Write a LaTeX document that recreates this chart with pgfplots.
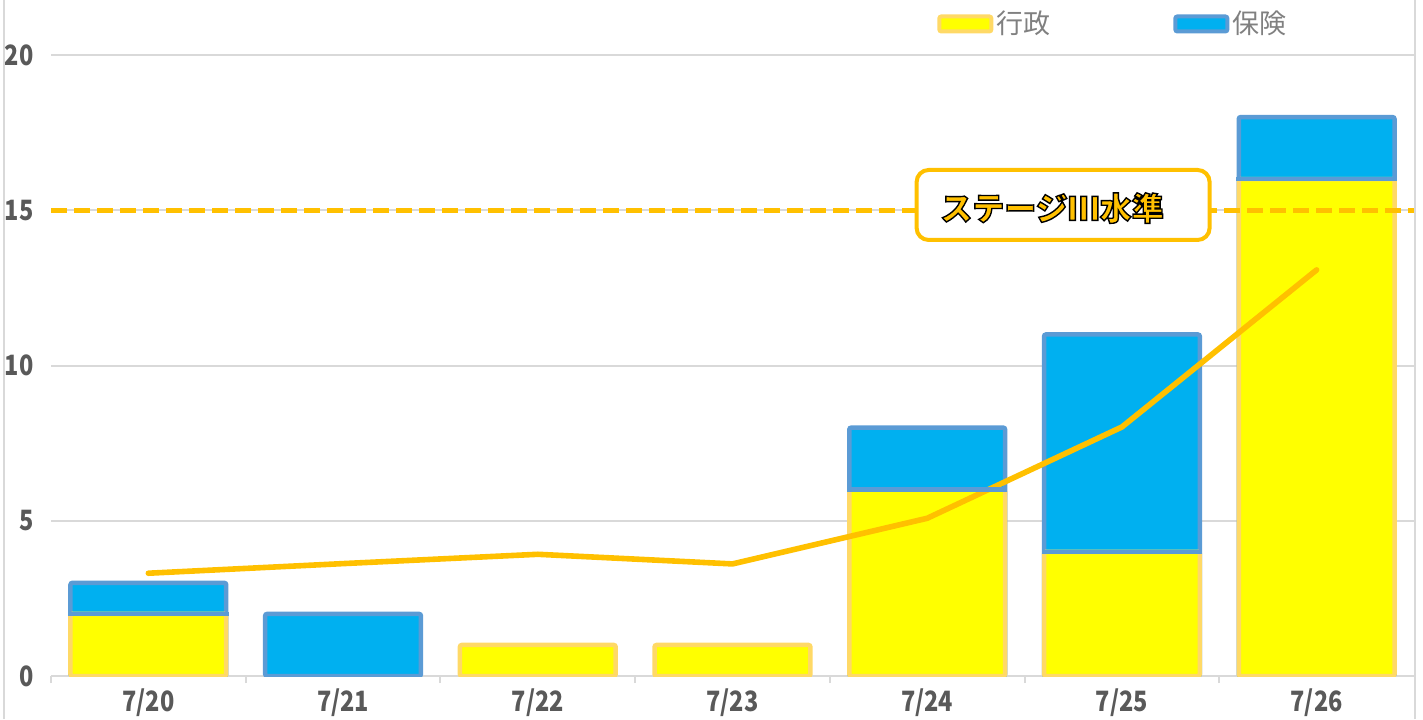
\documentclass[border=0pt]{standalone}
\usepackage{fontspec}
\setmainfont{Noto Sans CJK JP}
\newfontfamily\tickfont[FakeStretch=0.84]{Noto Sans CJK JP}
\usepackage{pgfplots}
\pgfplotsset{compat=1.18}
\definecolor{yfill}{HTML}{FFFF00}
\definecolor{yborder}{HTML}{FFD966}
\definecolor{bfill}{HTML}{00B0F0}
\definecolor{bborder}{HTML}{5B9BD5}
\definecolor{lorange}{HTML}{FFC000}
\definecolor{gridgray}{HTML}{D9D9D9}
\definecolor{ticktext}{HTML}{595959}
\definecolor{legtext}{HTML}{808080}
\newcommand\outlined[1]{{\color{lorange}\special{pdf:literal direct 0 0 0 RG 0.7 w 2 Tr}#1\special{pdf:literal direct 0 Tr}}}
\begin{document}
\begin{tikzpicture}
\useasboundingbox (0,0) rectangle (711.5pt,359.5pt);
\begin{axis}[
  at={(25.5pt,21.5pt)}, anchor=south west,
  scale only axis, width=681.5pt, height=310.5pt,
  xmin=-0.5, xmax=6.5, ymin=0, ymax=20,
  enlargelimits=false,
  axis line style={draw=none},
  ytick={0,5,10,15,20},
  xtick={0,1,2,3,4,5,6},
  xticklabels={7/20,7/21,7/22,7/23,7/24,7/25,7/26},
  minor xtick={-0.5,0.5,1.5,2.5,3.5,4.5,5.5},
  major tick length=0pt,
  minor tick length=3.5pt,
  tick align=outside,
  tick pos=left,
  minor x tick style={draw=gridgray, line width=1pt},
  ymajorgrids,
  major grid style={draw=gridgray, line width=1pt},
  /pgf/number format/assume math mode=true,
  ticklabel style={font=\tickfont\bfseries\fontsize{14}{14}\selectfont, text=ticktext},
  yticklabel style={anchor=east, inner sep=0pt, xshift=-8.5pt},
  xticklabel style={anchor=north, inner sep=0pt, yshift=-6pt},
  legend style={at={(0.65,1.05)}, anchor=west, draw=none, fill=none, inner sep=0pt,
    font=\fontsize{13.5}{14}\selectfont, text=legtext,
    nodes={inner sep=1.5pt},
    /tikz/every even column/.append style={column sep=60pt}},
  legend columns=2,
  legend cell align=left,
]
% blue segments (drawn to the total, then covered by yellow)
\addplot[ybar, bar width=0.80, bar shift=0pt, fill=bfill, draw=bborder, line width=2.25pt, rounded corners=1pt, forget plot]
  coordinates {(0,3) (1,2) (4,8) (5,11) (6,18)};
% yellow
\addplot[ybar, bar width=0.80, bar shift=0pt, fill=yfill, draw=yborder, line width=2.25pt, rounded corners=1pt, forget plot]
  coordinates {(0,2) (2,1) (3,1) (4,6) (5,4) (6,16)};
% border between the segments
\addplot[only marks, mark=-, mark size=40.1pt, mark options={draw=bborder, line width=2.25pt}, forget plot]
  coordinates {(0,2) (4,6) (5,4) (6,16)};
% stage III level
\addplot[lorange, line width=2.4pt, dash pattern=on 8pt off 3.5pt, forget plot]
  coordinates {(-0.5,15) (6.5,15)};
% average line
\addplot[lorange, line width=2.8pt, line cap=round, line join=round, forget plot]
  coordinates {(0,3.31) (1,3.62) (2,3.92) (3,3.61) (4,5.08) (5,8.02) (6,13.08)};
\addlegendimage{legend image code/.code={\draw[fill=yfill, draw=yborder, line width=2pt, rounded corners=1pt] (1pt,-3.75pt) rectangle (27pt,3.75pt);}}
\addlegendentry{行政}
\addlegendimage{legend image code/.code={\draw[fill=bfill, draw=bborder, line width=2pt, rounded corners=1pt] (1pt,-3.75pt) rectangle (27pt,3.75pt);}}
\addlegendentry{保険}
\node[draw=lorange, line width=2pt, rounded corners=6pt, fill=white, minimum width=146.5pt, minimum height=35pt, inner sep=0pt] at (axis cs:4.698,15.17) {};
\node[inner sep=0pt, font=\bfseries\fontsize{16}{16}\selectfont] at (axis cs:4.641,15.07) {\outlined{ステージⅢ水準}};
\end{axis}
\draw[gridgray, line width=1pt] (2pt,0) -- (2pt,359.5pt);
\draw[gridgray, line width=1pt] (707.5pt,0) -- (707.5pt,359.5pt);
\end{tikzpicture}
\end{document}
